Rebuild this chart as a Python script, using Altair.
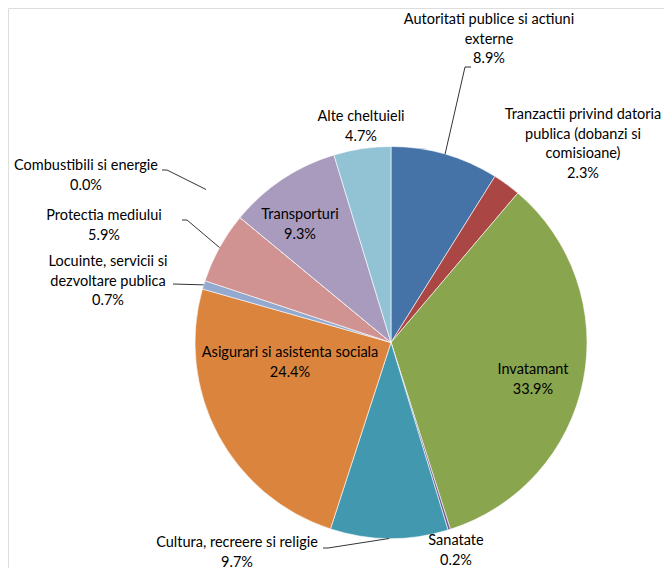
import math
import altair as alt
import pandas as pd

# ---- data ----
categories = [
    "Autoritati publice si actiuni externe",
    "Tranzactii privind datoria publica (dobanzi si comisioane)",
    "Invatamant",
    "Sanatate",
    "Cultura, recreere si religie",
    "Asigurari si asistenta sociala",
    "Locuinte, servicii si dezvoltare publica",
    "Protectia mediului",
    "Combustibili si energie",
    "Transporturi",
    "Alte cheltuieli",
]
shares = [8.9, 2.3, 33.9, 0.2, 9.7, 24.4, 0.7, 5.9, 0.0, 9.3, 4.7]
label_lines = [
    ["Autoritati publice si actiuni", "externe"],
    ["Tranzactii privind datoria", "publica (dobanzi si", "comisioane)"],
    ["Invatamant"],
    ["Sanatate"],
    ["Cultura, recreere si religie"],
    ["Asigurari si asistenta sociala"],
    ["Locuinte, servicii si", "dezvoltare publica"],
    ["Protectia mediului"],
    ["Combustibili si energie"],
    ["Transporturi"],
    ["Alte cheltuieli"],
]
colors = ["#4572A7", "#AA4643", "#89A54E", "#71588F", "#4198AF", "#DB843D",
          "#93A9CF", "#D19392", "#B9CD96", "#A99BBD", "#92C3D5"]

# ---- layout (chart pixel space) ----
W, H = 656, 560
CX, CY, R = 383, 334.5, 196
LH = 19.5
FONT = "Lato"
FS = 14.5
# label block: centre x, first-line y (page coords; 8px margin removed below)
label_pos = [
    (489, 20), (583, 115), (533, 370), (456, 541), (237, 543), (290, 353),
    (108, 262), (104, 216), (86, 166), (300, 215), (361, 117),
]
# leader lines: (radius of start point, elbow points in page coords)
leaders = {
    0: (R, [(465, 67), (471, 67)]),
    4: (R, [(328, 548), (323, 548)]),
    6: (R, [(173, 284)]),
    7: (R, [(187, 220), (182, 220)]),
    8: (240, [(167, 170), (162, 170)]),
}

total = sum(shares)
rows, text_rows, line_rows = [], [], []
acc = 0.0
for i, (cat, v) in enumerate(zip(categories, shares)):
    t0 = acc / total * 2 * math.pi
    acc += v
    t1 = acc / total * 2 * math.pi
    rows.append({"cat": cat, "value": v, "t0": t0, "t1": t1, "order": i})
    lines = label_lines[i] + [f"{v:.1f}%"]
    lx, ly = label_pos[i]
    for j, ln in enumerate(lines):
        text_rows.append({"txt": ln, "x": lx - 8, "y": ly - 8 + j * LH})
    if i in leaders:
        rr, pts = leaders[i]
        mid = (t0 + t1) / 2
        sx = CX + rr * math.sin(mid)
        sy = CY - rr * math.cos(mid)
        seq = [(sx, sy)] + [(px - 8, py - 8) for px, py in pts]
        for k, (px, py) in enumerate(seq):
            line_rows.append({"cat": cat, "k": k, "x": px, "y": py})

df = pd.DataFrame(rows)
tdf = pd.DataFrame(text_rows)
ldf = pd.DataFrame(line_rows)

pie = alt.Chart(df).mark_arc(outerRadius=R, stroke="white", strokeWidth=0.6).encode(
    theta=alt.Theta("t0:Q", scale=None),
    theta2="t1:Q",
    x=alt.value(CX),
    y=alt.value(CY),
    color=alt.Color("cat:N", scale=alt.Scale(domain=categories, range=colors), legend=None),
    order=alt.Order("order:Q"),
)

lead = alt.Chart(ldf).mark_line(color="#000000", strokeWidth=0.8).encode(
    x=alt.X("x:Q", scale=None, axis=None),
    y=alt.Y("y:Q", scale=None, axis=None),
    detail="cat:N",
    order="k:Q",
)

labels = alt.Chart(tdf).mark_text(
    font=FONT, fontSize=FS, color="#000000", align="center", baseline="middle"
).encode(
    x=alt.X("x:Q", scale=None, axis=None),
    y=alt.Y("y:Q", scale=None, axis=None),
    text="txt:N",
)

chart = alt.layer(pie, lead, labels).properties(
    width=W, height=H, autosize=alt.AutoSizeParams(type="none"), padding=0
).configure_view(stroke=None).configure(background="white")

chart.save("out.html", embed_options={"renderer": "svg", "actions": False})
